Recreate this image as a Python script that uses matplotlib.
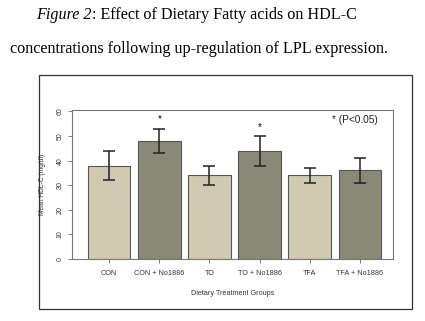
import numpy as np
import matplotlib.pyplot as plt
from matplotlib.patches import Rectangle

# data
groups = ['CON', 'CON + No1886', 'TO', 'TO + No1886', 'TFA', 'TFA + No1886']
means = [38, 48, 34, 44, 34, 36]
err_lo = [32, 43, 30, 38, 31, 31]
err_hi = [44, 53, 38, 50, 37, 41]
signif = [False, True, False, True, False, False]
star_y = [0, 57, 0, 53.7, 0, 0]

light = '#cfcab1'
dark = '#8a8977'
colors = [light, dark] * 3

fig = plt.figure(figsize=(4.25, 3.21), dpi=100)

# caption text above the framed chart
serif = 'Liberation Serif'
fsz = 11.6
t1 = fig.text(36 / 425, 1 - 15 / 321, 'Figure 2', family=serif, style='italic',
              fontsize=fsz, va='center', ha='left')
fig.canvas.draw()
bb = t1.get_window_extent()
fig.text(bb.x1 / fig.bbox.width, 1 - 15 / 321, ': Effect of Dietary Fatty acids on HDL-C',
         family=serif, fontsize=fsz, va='center', ha='left')
fig.text(10 / 425, 1 - 49 / 321,
         'concentrations following up-regulation of LPL expression.',
         family=serif, fontsize=fsz, va='center', ha='left')

# outer frame
fig.patches.append(Rectangle((39 / 425, 1 - 309 / 321), (412 - 39) / 425,
                             (309 - 75) / 321, transform=fig.transFigure,
                             fill=False, edgecolor='#333333', linewidth=0.9))

ax = fig.add_axes([72 / 425, 1 - 259 / 321, (393 - 72) / 425, (259 - 110) / 321])
x = np.arange(len(groups))
ax.bar(x, means, width=0.85, color=colors, edgecolor='#555555', linewidth=0.8)
lo = np.array(means) - np.array(err_lo)
hi = np.array(err_hi) - np.array(means)
ax.errorbar(x, means, yerr=[lo, hi], fmt='none', ecolor='#222222',
            elinewidth=1.1, capsize=4, capthick=1.1)
for xi, s, sy in zip(x, signif, star_y):
    if s:
        ax.text(xi, sy, '*', ha='center', va='center', fontsize=7,
                family='Liberation Sans')
ax.text(4.45, 56.5, '* (P<0.05)', fontsize=7.3, family='Liberation Sans',
        ha='left', va='center', color='#222222')

ax.set_xlim(-0.74, 5.66)
ax.set_ylim(0, 60.6)
ax.set_yticks(range(0, 61, 10))
ax.set_xticks(x)
ax.set_xticklabels(groups, family='Liberation Sans', fontsize=5.2, color='#333333')
for lab in ax.get_yticklabels():
    lab.set_rotation(90)
    lab.set_va('center')
    lab.set_family('Liberation Sans')
    lab.set_fontsize(5)
    lab.set_color('#333333')
ax.tick_params(length=3, width=0.6, color='#666666', pad=3)
ax.tick_params(axis='x', pad=5)
for sp in ax.spines.values():
    sp.set_color('#777777')
    sp.set_linewidth(0.8)

ax.set_xlabel('Dietary Treatment Groups', family='Liberation Sans',
              fontsize=5.2, color='#333333', labelpad=9)
ax.set_ylabel('Mean HDL-C (mg/dl)', family='Liberation Sans',
              fontsize=4.8, color='#333333', labelpad=8)

fig.savefig('out.png', dpi=100)
